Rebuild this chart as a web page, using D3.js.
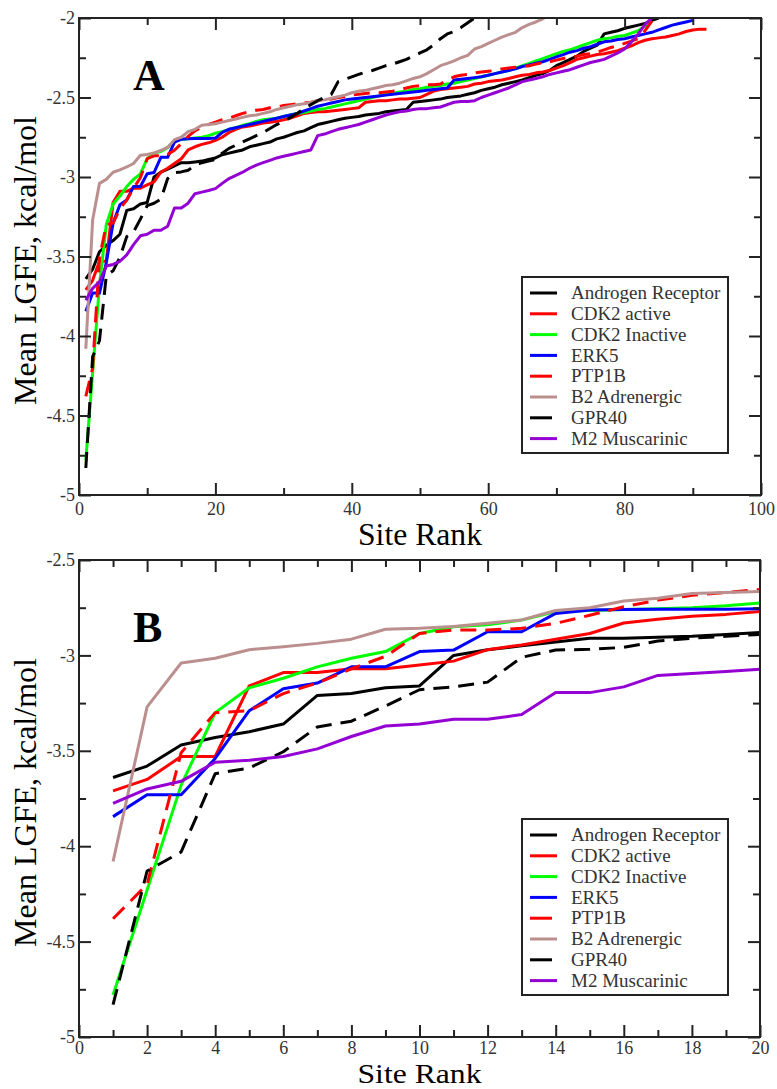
<!DOCTYPE html>
<html>
<head>
<meta charset="utf-8">
<script src="https://cdn.jsdelivr.net/npm/d3@7/dist/d3.min.js"></script>
<style>
  body { margin: 0; background: #fff; }
  svg { display: block; font-family: "Liberation Serif", "Times New Roman", serif; }
</style>
</head>
<body>
<div id="chart"></div>
<script>

// series names, in legend / drawing order
var seriesNames = ["Androgen Receptor", "CDK2 active", "CDK2 Inactive", "ERK5",
                   "PTP1B", "B2 Adrenergic", "GPR40", "M2 Muscarinic"];
var seriesColors = ["#000000", "#ff0000", "#00ff00", "#0000ff",
                    "#ff0000", "#bc8f8f", "#000000", "#9400d3"];
var seriesDashed = [false, false, false, false, true, false, true, false];

// mean LGFE (kcal/mol) by site rank, rank 1 first
var androgen = [-3.64, -3.58, -3.47, -3.43, -3.40, -3.36, -3.21, -3.20, -3.17, -3.16,
  -3.00, -2.97, -2.95, -2.93, -2.91, -2.91, -2.905, -2.90, -2.89, -2.88,
  -2.86, -2.85, -2.84, -2.83, -2.81, -2.80, -2.79, -2.78, -2.76, -2.75,
  -2.735, -2.72, -2.71, -2.69, -2.67, -2.66, -2.65, -2.64, -2.63, -2.625,
  -2.62, -2.61, -2.605, -2.60, -2.59, -2.585, -2.58, -2.575, -2.53, -2.525,
  -2.52, -2.515, -2.51, -2.50, -2.495, -2.49, -2.48, -2.47, -2.455, -2.445,
  -2.435, -2.42, -2.41, -2.40, -2.39, -2.375, -2.36, -2.35, -2.33, -2.30,
  -2.28, -2.26, -2.24, -2.21, -2.19, -2.17, -2.10, -2.09, -2.08, -2.065,
  -2.055, -2.045, -2.035, -2.015, -2.0];

var cdk2Active = [-3.71, -3.65, -3.53, -3.53, -3.16, -3.09, -3.09, -3.07, -3.07, -3.05,
  -3.03, -2.97, -2.945, -2.915, -2.885, -2.83, -2.81, -2.795, -2.785, -2.77,
  -2.75, -2.72, -2.70, -2.685, -2.68, -2.67, -2.66, -2.655, -2.65, -2.64,
  -2.63, -2.615, -2.60, -2.595, -2.59, -2.59, -2.585, -2.58, -2.575, -2.57,
  -2.565, -2.53, -2.525, -2.52, -2.52, -2.515, -2.51, -2.51, -2.505, -2.50,
  -2.48, -2.46, -2.45, -2.445, -2.44, -2.435, -2.43, -2.415, -2.41, -2.40,
  -2.395, -2.39, -2.38, -2.37, -2.36, -2.355, -2.345, -2.34, -2.33, -2.315,
  -2.30, -2.28, -2.26, -2.25, -2.24, -2.23, -2.225, -2.215, -2.205, -2.19,
  -2.175, -2.155, -2.14, -2.13, -2.125, -2.12, -2.11, -2.10, -2.085, -2.075,
  -2.07, -2.07];

var cdk2Inactive = [-4.78, -4.23, -3.68, -3.30, -3.17, -3.12, -3.06, -3.015, -2.98, -2.885,
  -2.85, -2.84, -2.815, -2.77, -2.765, -2.76, -2.755, -2.75, -2.74, -2.725,
  -2.715, -2.70, -2.69, -2.675, -2.665, -2.65, -2.64, -2.635, -2.63, -2.62,
  -2.61, -2.60, -2.595, -2.585, -2.575, -2.57, -2.56, -2.55, -2.54, -2.53,
  -2.52, -2.51, -2.50, -2.49, -2.48, -2.475, -2.465, -2.46, -2.45, -2.445,
  -2.435, -2.43, -2.425, -2.415, -2.41, -2.40, -2.39, -2.38, -2.37, -2.36,
  -2.35, -2.34, -2.33, -2.315, -2.30, -2.285, -2.27, -2.255, -2.24, -2.225,
  -2.21, -2.20, -2.185, -2.17, -2.155, -2.14, -2.13, -2.125, -2.115, -2.11,
  -2.095, -2.08, -2.05, -2.02];

var erk5 = [-3.845, -3.73, -3.73, -3.54, -3.29, -3.175, -3.145, -3.06, -3.06, -2.98,
  -2.972, -2.876, -2.876, -2.78, -2.762, -2.76, -2.758, -2.758, -2.758, -2.755,
  -2.72, -2.70, -2.69, -2.68, -2.67, -2.66, -2.65, -2.64, -2.63, -2.62,
  -2.61, -2.60, -2.585, -2.57, -2.555, -2.545, -2.535, -2.525, -2.515, -2.51,
  -2.505, -2.50, -2.495, -2.49, -2.485, -2.48, -2.475, -2.47, -2.465, -2.46,
  -2.455, -2.45, -2.445, -2.44, -2.39, -2.385, -2.38, -2.375, -2.37, -2.36,
  -2.35, -2.34, -2.33, -2.32, -2.305, -2.295, -2.285, -2.275, -2.26, -2.245,
  -2.23, -2.215, -2.205, -2.19, -2.18, -2.165, -2.15, -2.145, -2.135, -2.13,
  -2.12, -2.11, -2.10, -2.09, -2.075, -2.06, -2.045, -2.035, -2.025, -2.015];

var ptp1b = [-4.38, -4.20, -3.51, -3.30, -3.29, -3.20, -3.145, -3.07, -3.005, -2.885,
  -2.867, -2.867, -2.858, -2.832, -2.79, -2.745, -2.71, -2.685, -2.67, -2.655,
  -2.64, -2.63, -2.615, -2.60, -2.59, -2.58, -2.575, -2.565, -2.56, -2.55,
  -2.545, -2.54, -2.535, -2.53, -2.52, -2.515, -2.51, -2.50, -2.495, -2.485,
  -2.48, -2.475, -2.47, -2.47, -2.465, -2.46, -2.45, -2.44, -2.43, -2.425,
  -2.42, -2.42, -2.415, -2.39, -2.37, -2.36, -2.355, -2.345, -2.34, -2.335,
  -2.33, -2.32, -2.315, -2.31, -2.305, -2.30, -2.29, -2.28, -2.275, -2.265,
  -2.255, -2.245, -2.24, -2.23, -2.225, -2.215, -2.20, -2.185, -2.175, -2.16,
  -2.145, -2.13, -2.08, -2.02];

var b2Adrenergic = [-4.08, -3.27, -3.04, -3.015, -2.97, -2.955, -2.937, -2.915, -2.863, -2.858,
  -2.849, -2.832, -2.814, -2.765, -2.75, -2.715, -2.70, -2.675, -2.67, -2.665,
  -2.655, -2.645, -2.635, -2.625, -2.615, -2.61, -2.60, -2.59, -2.575, -2.565,
  -2.555, -2.545, -2.54, -2.53, -2.52, -2.515, -2.505, -2.495, -2.485, -2.47,
  -2.46, -2.455, -2.445, -2.435, -2.425, -2.42, -2.41, -2.395, -2.38, -2.37,
  -2.35, -2.325, -2.30, -2.285, -2.27, -2.25, -2.235, -2.195, -2.18, -2.16,
  -2.14, -2.12, -2.105, -2.09, -2.06, -2.04, -2.025, -2.005, -1.98];

var gpr40 = [-4.83, -4.13, -4.03, -3.62, -3.59, -3.505, -3.375, -3.345, -3.265, -3.18,
  -3.165, -3.14, -3.01, -2.972, -2.968, -2.958, -2.925, -2.91, -2.90, -2.89,
  -2.85, -2.82, -2.80, -2.78, -2.76, -2.74, -2.72, -2.695, -2.67, -2.65,
  -2.625, -2.60, -2.57, -2.545, -2.52, -2.50, -2.48, -2.40, -2.385, -2.37,
  -2.355, -2.34, -2.33, -2.315, -2.30, -2.29, -2.275, -2.26, -2.24, -2.22,
  -2.20, -2.17, -2.13, -2.10, -2.085, -2.06, -2.03, -2.0];

var m2Muscarinic = [-3.775, -3.70, -3.66, -3.56, -3.55, -3.53, -3.49, -3.425, -3.37, -3.36,
  -3.335, -3.335, -3.31, -3.195, -3.195, -3.165, -3.105, -3.095, -3.085, -3.073,
  -3.04, -3.01, -2.99, -2.97, -2.945, -2.925, -2.91, -2.895, -2.88, -2.87,
  -2.86, -2.85, -2.84, -2.83, -2.74, -2.73, -2.715, -2.70, -2.69, -2.68,
  -2.67, -2.655, -2.64, -2.625, -2.61, -2.60, -2.59, -2.585, -2.575, -2.57,
  -2.57, -2.565, -2.56, -2.545, -2.53, -2.525, -2.525, -2.52, -2.50, -2.485,
  -2.47, -2.455, -2.44, -2.42, -2.40, -2.39, -2.38, -2.37, -2.355, -2.345,
  -2.335, -2.325, -2.31, -2.295, -2.28, -2.27, -2.26, -2.24, -2.22, -2.195,
  -2.15, -2.10, -2.04, -2.0];

var seriesValues = [androgen, cdk2Active, cdk2Inactive, erk5, ptp1b, b2Adrenergic, gpr40, m2Muscarinic];

// axis ticks
var xTicksA = [0, 20, 40, 60, 80, 100];
var xMinorA = [10, 30, 50, 70, 90];
var yTicksA = [-5, -4.5, -4, -3.5, -3, -2.5, -2];
var yMinorA = [-4.75, -4.25, -3.75, -3.25, -2.75, -2.25];
var xTicksB = [0, 2, 4, 6, 8, 10, 12, 14, 16, 18, 20];
var xMinorB = [1, 3, 5, 7, 9, 11, 13, 15, 17, 19];
var yTicksB = [-5, -4.5, -4, -3.5, -3, -2.5];
var yMinorB = [-4.75, -4.25, -3.75, -3.25, -2.75];

var width = 777, height = 1089;

var svg = d3.select("#chart").append("svg")
  .attr("width", width)
  .attr("height", height);

var series = seriesNames.map(function (name, i) {
  return { name: name, color: seriesColors[i], dashed: seriesDashed[i], values: seriesValues[i] };
});

function drawPanel(cfg) {
  var x = d3.scaleLinear().domain(cfg.xDomain).range([cfg.left, cfg.right]);
  var y = d3.scaleLinear().domain(cfg.yDomain).range([cfg.bottom, cfg.top]);

  svg.append("clipPath").attr("id", "clip" + cfg.id)
    .append("rect")
    .attr("x", cfg.left).attr("y", cfg.top)
    .attr("width", cfg.right - cfg.left).attr("height", cfg.bottom - cfg.top);

  var line = d3.line()
    .x(function (d, i) { return x(i + 1); })
    .y(function (d) { return y(d); });

  var lines = svg.append("g").attr("clip-path", "url(#clip" + cfg.id + ")");
  series.forEach(function (s) {
    lines.append("path")
      .datum(s.values.slice(0, cfg.maxRank))
      .attr("fill", "none")
      .attr("stroke", s.color)
      .attr("stroke-width", 3)
      .attr("stroke-linejoin", "round")
      .attr("stroke-dasharray", s.dashed ? "16,9" : null)
      .attr("d", line);
  });

  var fmt = function (d) { return String(d); };

  // inward ticks on all four sides
  function axis(gen, scale, ticks, size, labels, transform) {
    var a = gen(scale).tickValues(ticks).tickSizeInner(-size).tickSizeOuter(0)
      .tickPadding(labels ? (gen === d3.axisLeft ? 4 : cfg.xPad) : 0)
      .tickFormat(labels ? fmt : "");
    var g = svg.append("g").attr("transform", transform).call(a);
    g.select(".domain").remove();
    g.selectAll("line").attr("stroke", "#222").attr("stroke-width", 2);
    g.selectAll("text").attr("fill", "#333").style("font-size", "18px")
      .style("font-family", "'Liberation Serif', serif");
    return g;
  }

  axis(d3.axisBottom, x, cfg.xTicks, 12, true, "translate(0," + cfg.bottom + ")");
  axis(d3.axisBottom, x, cfg.xMinor, 7, false, "translate(0," + cfg.bottom + ")");
  axis(d3.axisTop, x, cfg.xTicks, 12, false, "translate(0," + cfg.top + ")");
  axis(d3.axisTop, x, cfg.xMinor, 7, false, "translate(0," + cfg.top + ")");
  axis(d3.axisLeft, y, cfg.yTicks, 12, true, "translate(" + cfg.left + ",0)");
  axis(d3.axisLeft, y, cfg.yMinor, 7, false, "translate(" + cfg.left + ",0)");
  axis(d3.axisRight, y, cfg.yTicks, 12, false, "translate(" + cfg.right + ",0)");
  axis(d3.axisRight, y, cfg.yMinor, 7, false, "translate(" + cfg.right + ",0)");

  svg.append("rect")
    .attr("x", cfg.left).attr("y", cfg.top)
    .attr("width", cfg.right - cfg.left).attr("height", cfg.bottom - cfg.top)
    .attr("fill", "none").attr("stroke", "#222").attr("stroke-width", 2);

  // panel letter
  svg.append("text")
    .attr("x", cfg.left + 54).attr("y", cfg.top + cfg.letterDy)
    .attr("font-size", 44).attr("font-weight", "bold")
    .text(cfg.id);

  // axis titles
  svg.append("text")
    .attr("x", (cfg.left + cfg.right) / 2).attr("y", cfg.bottom + cfg.titleDy)
    .attr("text-anchor", "middle").attr("font-size", cfg.titleSize)
    .attr("textLength", 124).attr("lengthAdjust", "spacingAndGlyphs")
    .text("Site Rank");

  svg.append("text")
    .attr("transform", "translate(36," + ((cfg.top + cfg.bottom) / 2 + 4) + ") rotate(-90)")
    .attr("text-anchor", "middle").attr("font-size", 32)
    .text("Mean LGFE, kcal/mol");

  // legend
  var leg = svg.append("g").attr("transform", "translate(" + cfg.legX + "," + cfg.legY + ")");
  leg.append("rect")
    .attr("width", 206).attr("height", 176)
    .attr("fill", "#fff").attr("stroke", "#222").attr("stroke-width", 2);
  var rows = leg.selectAll("g.row").data(series).enter().append("g")
    .attr("class", "row")
    .attr("transform", function (d, i) { return "translate(0," + (16 + i * 20.8) + ")"; });
  rows.append("line")
    .attr("x1", 8).attr("x2", function (d) { return d.dashed ? 30 : 35; })
    .attr("stroke", function (d) { return d.color; })
    .attr("stroke-width", 3);
  rows.append("text")
    .attr("x", 49).attr("dy", "0.33em")
    .attr("font-size", 19).attr("fill", "#333")
    .text(function (d) { return d.name; });
}

drawPanel({
  id: "A", left: 79, right: 761, top: 18, bottom: 495,
  xDomain: [0, 100], yDomain: [-5, -2], maxRank: 100,
  xTicks: xTicksA, xMinor: xMinorA, yTicks: yTicksA, yMinor: yMinorA,
  xPad: 7, letterDy: 72, titleDy: 50, titleSize: 32, legX: 522, legY: 277
});

drawPanel({
  id: "B", left: 79, right: 760, top: 560, bottom: 1037,
  xDomain: [0, 20], yDomain: [-5, -2.5], maxRank: 20,
  xTicks: xTicksB, xMinor: xMinorB, yTicks: yTicksB, yMinor: yMinorB,
  xPad: 4, letterDy: 82, titleDy: 46, titleSize: 28, legX: 522, legY: 819
});

</script>
</body>
</html>
